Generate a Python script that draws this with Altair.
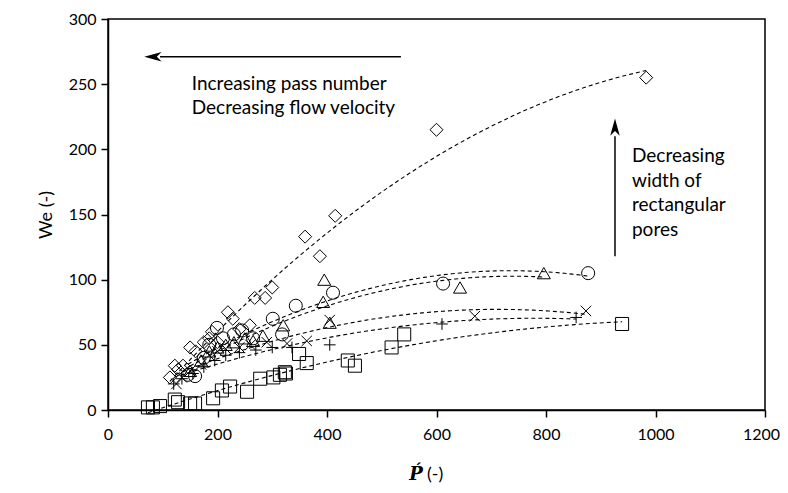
import altair as alt
import pandas as pd

# ---- data ----
diamond_x = [113, 122, 128, 137, 150, 160, 175, 185, 190, 200, 219, 228, 240, 259, 268, 287, 300, 360, 387, 415, 600, 983]
diamond_y = [25, 34, 31, 34, 48, 45, 52, 55, 60, 52, 75, 70, 62, 65, 86, 86, 94, 133, 118, 149, 215, 255]

triangle_x = [150, 170, 185, 200, 215, 230, 250, 265, 283, 320, 393, 395, 405, 643, 796]
triangle_y = [30, 38, 45, 48, 50, 52, 55, 53, 57, 65, 83, 100, 67, 94, 105]

circle_x = [146, 159, 175, 185, 199, 210, 230, 245, 265, 301, 318, 343, 411, 612, 877]
circle_y = [27, 26, 40, 50, 63, 55, 58, 61, 55, 70, 58, 80, 90, 97, 105]

cross_x = [125, 135, 150, 170, 185, 200, 215, 240, 260, 290, 327, 363, 405, 670, 873]
cross_y = [20, 25, 30, 35, 42, 45, 47, 48, 50, 52, 51, 53, 69, 72, 76]

plus_x = [120, 135, 155, 175, 195, 215, 240, 270, 300, 336, 405, 610, 855]
plus_y = [20, 24, 28, 33, 38, 42, 44, 46, 48, 48, 50, 66, 71]

square_x = [73, 82, 95, 122, 128, 150, 159, 192, 208, 223, 254, 278, 302, 314, 323, 325, 349, 363, 438, 451, 518, 541, 939]
square_y = [2, 2, 3, 8, 6, 5, 5, 9, 15, 18, 14, 24, 25, 27, 29, 28, 43, 36, 38, 34, 48, 58, 66]

series_names = ["D", "T", "C", "X", "P", "S"]
series_x = [diamond_x, triangle_x, circle_x, cross_x, plus_x, square_x]
series_y = [diamond_y, triangle_y, circle_y, cross_y, plus_y, square_y]
shapes = [
    "M0,-1L1,0L0,1L-1,0Z",
    "triangle-up",
    "circle",
    "M-0.8,-0.8L0.8,0.8M-0.8,0.8L0.8,-0.8",
    "M-0.9,0L0.9,0M0,-0.9L0,0.9",
    "square",
]

x_ticks = [0, 200, 400, 600, 800, 1000, 1200]
y_ticks = [0, 50, 100, 150, 200, 250, 300]

rows = []
for name, xs, ys in zip(series_names, series_x, series_y):
    for xv, yv in zip(xs, ys):
        rows.append({"series": name, "x": xv, "y": yv})
df = pd.DataFrame(rows)

FONT = "Lato"
xscale = alt.Scale(domain=[0, 1200], nice=False, zero=True)
yscale = alt.Scale(domain=[0, 300], nice=False, zero=True)

base = alt.Chart(df)

points = base.mark_point(filled=False, strokeWidth=1, size=170, opacity=1).encode(
    x=alt.X("x:Q", scale=xscale,
            axis=alt.Axis(values=x_ticks, format="d", title=None, tickSize=7, labelPadding=9,
                          labelFontSize=16, labelFont=FONT, labelColor="black",
                          labelOffset={"condition": {"test": "datum.value == 1200", "value": -4}, "value": 0},
                          domainColor="black", tickColor="black", domainWidth=1.5,
                          tickWidth=1.5, grid=False, labelFlush=False)),
    y=alt.Y("y:Q", scale=yscale,
            axis=alt.Axis(values=y_ticks, format="d", title="We (-)", tickSize=7, labelPadding=5,
                          labelFontSize=16, labelFont=FONT, labelColor="black",
                          titleFont=FONT, titleFontSize=18, titleFontWeight="normal",
                          titleColor="black", titlePadding=13,
                          domainColor="black", tickColor="black", domainWidth=1.5,
                          tickWidth=1.5, grid=False)),
    shape=alt.Shape("series:N", scale=alt.Scale(domain=series_names, range=shapes), legend=None),
    color=alt.value("black"),
)

fits = base.transform_regression(
    "x", "y", groupby=["series"], method="poly", order=2
).mark_line(strokeDash=[4, 3], strokeWidth=1.1, color="black").encode(
    x=alt.X("x:Q", scale=xscale),
    y=alt.Y("y:Q", scale=yscale),
    detail="series:N",
)

# arrows
harrow_df = pd.DataFrame({"x": [535], "x2": [95], "y": [271]})
harrow = alt.Chart(harrow_df).mark_rule(color="black", strokeWidth=1.5).encode(
    x=alt.X("x:Q", scale=xscale), x2="x2:Q", y=alt.Y("y:Q", scale=yscale))
harrow_head = alt.Chart(pd.DataFrame({"x": [82], "y": [271]})).mark_point(
    shape="M-1,0L1,-0.55L0.45,0L1,0.55Z", filled=True, color="black", size=300, opacity=1
).encode(x=alt.X("x:Q", scale=xscale), y=alt.Y("y:Q", scale=yscale))

varrow_df = pd.DataFrame({"x": [926], "y": [118], "y2": [210]})
varrow = alt.Chart(varrow_df).mark_rule(color="black", strokeWidth=1.5).encode(
    x=alt.X("x:Q", scale=xscale), y=alt.Y("y:Q", scale=yscale), y2="y2:Q")
varrow_head = alt.Chart(pd.DataFrame({"x": [926], "y": [217]})).mark_point(
    shape="M0,-1L-0.55,1L0,0.45L0.55,1Z", filled=True, color="black", size=300, opacity=1
).encode(x=alt.X("x:Q", scale=xscale), y=alt.Y("y:Q", scale=yscale))

# annotation text
ann_text = ["Increasing pass number", "Decreasing flow velocity",
            "Decreasing", "width of", "rectangular", "pores"]
ann_x = [153, 153, 957, 957, 957, 957]
ann_y = [250, 232, 195, 176, 157, 138]
ann = alt.Chart(pd.DataFrame({"t": ann_text, "x": ann_x, "y": ann_y})).mark_text(
    align="left", baseline="middle", font=FONT, fontSize=19, color="black"
).encode(x=alt.X("x:Q", scale=xscale), y=alt.Y("y:Q", scale=yscale), text="t:N")

# x-axis title: bold italic serif P with acute + "(-)"
xt1 = alt.Chart(pd.DataFrame({"t": ["\u1E54"]})).mark_text(
    align="center", baseline="alphabetic", font="DejaVu Serif", fontSize=18,
    fontWeight="bold", fontStyle="italic", color="black"
).encode(x=alt.value(308), y=alt.value(461), text="t:N")
xt2 = alt.Chart(pd.DataFrame({"t": ["(-)"]})).mark_text(
    align="left", baseline="alphabetic", font=FONT, fontSize=18, color="black"
).encode(x=alt.value(319), y=alt.value(461), text="t:N")

chart = alt.layer(
    fits, points, harrow, harrow_head, varrow, varrow_head, ann, xt1, xt2
).properties(
    width=657, height=391,
    autosize=alt.AutoSizeParams(type="none"),
    padding={"left": 100, "top": 11, "right": 15, "bottom": 75},
).configure_view(stroke="black", strokeWidth=1.5)

chart.save("out.html", embed_options={"renderer": "svg", "actions": False})
